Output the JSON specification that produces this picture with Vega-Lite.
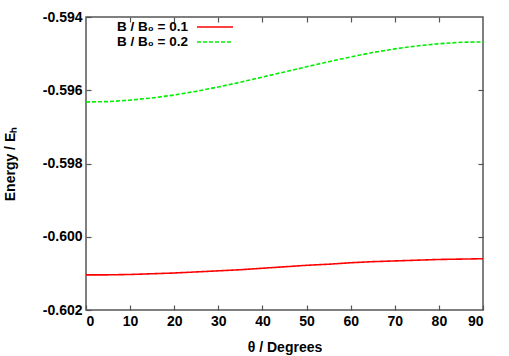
{
  "$schema": "https://vega.github.io/schema/vega-lite/v6.json",
  "width": 397,
  "height": 293,
  "autosize": {"type": "none"},
  "padding": {"left": 86, "top": 17, "right": 26, "bottom": 46},
  "background": "white",
  "config": {
    "view": {"stroke": "#555555", "strokeWidth": 1.5},
    "font": "Liberation Sans",
    "locale": {"number": {"decimal": ".", "thousands": ",", "grouping": [3], "currency": ["$", ""], "minus": "-"}},
    "axis": {"grid": false, "domain": false, "tickColor": "#555555", "tickWidth": 1.2, "tickSize": 5, "offset": -5, "labelFont": "Liberation Sans", "labelFontWeight": "bold", "labelFontSize": 14, "labelColor": "black", "titleFont": "Liberation Sans", "titleFontWeight": "bold", "titleFontSize": 14, "titleColor": "black"},
    "legend": {"orient": "none", "title": null, "symbolType": "stroke", "symbolSize": 1300, "symbolStrokeWidth": 1.6, "labelAlign": "right", "labelOffset": -46, "labelFontSize": 13.5, "labelFontWeight": "bold", "labelColor": "black", "labelFont": "Liberation Sans"}
  },
  "data": {"values": [
    {"theta": 0, "energy": -0.60104, "series": "B / B₀ = 0.1"},
    {"theta": 5, "energy": -0.60104, "series": "B / B₀ = 0.1"},
    {"theta": 10, "energy": -0.60103, "series": "B / B₀ = 0.1"},
    {"theta": 15, "energy": -0.60101, "series": "B / B₀ = 0.1"},
    {"theta": 20, "energy": -0.60099, "series": "B / B₀ = 0.1"},
    {"theta": 25, "energy": -0.60096, "series": "B / B₀ = 0.1"},
    {"theta": 30, "energy": -0.60093, "series": "B / B₀ = 0.1"},
    {"theta": 35, "energy": -0.60090, "series": "B / B₀ = 0.1"},
    {"theta": 40, "energy": -0.60086, "series": "B / B₀ = 0.1"},
    {"theta": 45, "energy": -0.60082, "series": "B / B₀ = 0.1"},
    {"theta": 50, "energy": -0.60078, "series": "B / B₀ = 0.1"},
    {"theta": 55, "energy": -0.60075, "series": "B / B₀ = 0.1"},
    {"theta": 60, "energy": -0.60071, "series": "B / B₀ = 0.1"},
    {"theta": 65, "energy": -0.60068, "series": "B / B₀ = 0.1"},
    {"theta": 70, "energy": -0.60066, "series": "B / B₀ = 0.1"},
    {"theta": 75, "energy": -0.60064, "series": "B / B₀ = 0.1"},
    {"theta": 80, "energy": -0.60062, "series": "B / B₀ = 0.1"},
    {"theta": 85, "energy": -0.60061, "series": "B / B₀ = 0.1"},
    {"theta": 90, "energy": -0.60060, "series": "B / B₀ = 0.1"},
    {"theta": 0, "energy": -0.59632, "series": "B / B₀ = 0.2"},
    {"theta": 5, "energy": -0.59631, "series": "B / B₀ = 0.2"},
    {"theta": 10, "energy": -0.59627, "series": "B / B₀ = 0.2"},
    {"theta": 15, "energy": -0.59621, "series": "B / B₀ = 0.2"},
    {"theta": 20, "energy": -0.59613, "series": "B / B₀ = 0.2"},
    {"theta": 25, "energy": -0.59603, "series": "B / B₀ = 0.2"},
    {"theta": 30, "energy": -0.59591, "series": "B / B₀ = 0.2"},
    {"theta": 35, "energy": -0.59578, "series": "B / B₀ = 0.2"},
    {"theta": 40, "energy": -0.59564, "series": "B / B₀ = 0.2"},
    {"theta": 45, "energy": -0.59550, "series": "B / B₀ = 0.2"},
    {"theta": 50, "energy": -0.59536, "series": "B / B₀ = 0.2"},
    {"theta": 55, "energy": -0.59522, "series": "B / B₀ = 0.2"},
    {"theta": 60, "energy": -0.59509, "series": "B / B₀ = 0.2"},
    {"theta": 65, "energy": -0.59497, "series": "B / B₀ = 0.2"},
    {"theta": 70, "energy": -0.59487, "series": "B / B₀ = 0.2"},
    {"theta": 75, "energy": -0.59479, "series": "B / B₀ = 0.2"},
    {"theta": 80, "energy": -0.59473, "series": "B / B₀ = 0.2"},
    {"theta": 85, "energy": -0.59469, "series": "B / B₀ = 0.2"},
    {"theta": 90, "energy": -0.59468, "series": "B / B₀ = 0.2"}
  ]},
  "layer": [
    {
      "mark": {"type": "line", "strokeWidth": 1.6, "clip": true},
      "encoding": {
        "x": {"field": "theta", "type": "quantitative", "scale": {"domain": [0, 90], "nice": false}, "axis": {"values": [0, 10, 20, 30, 40, 50, 60, 70, 80, 90], "labelPadding": 4, "title": "θ /  Degrees", "titlePadding": 12}},
        "y": {"field": "energy", "type": "quantitative", "scale": {"domain": [-0.602, -0.594], "nice": false, "zero": false}, "axis": {"values": [-0.602, -0.6, -0.598, -0.596, -0.594], "format": ".3f", "labelPadding": 4, "title": "Energy / Eₕ", "titlePadding": 25}},
        "color": {"field": "series", "type": "nominal", "scale": {"domain": ["B / B₀ = 0.1", "B / B₀ = 0.2"], "range": ["#ff0000", "#00ee00"]}, "legend": {"values": ["B / B₀ = 0.1"], "legendX": 110, "legendY": -9}},
        "strokeDash": {"field": "series", "type": "nominal", "scale": {"domain": ["B / B₀ = 0.2", "B / B₀ = 0.1"], "range": [[4, 2], [1, 0]]}, "legend": {"values": ["B / B₀ = 0.2"], "legendX": 110, "legendY": 6, "symbolStrokeColor": "#00ee00"}}
      }
    },
    {
      "mark": {"type": "rule", "opacity": 0},
      "encoding": {
        "x": {"field": "theta", "type": "quantitative", "axis": {"orient": "top", "values": [10, 20, 30, 40, 50, 60, 70, 80], "labels": false, "title": null}},
        "y": {"field": "energy", "type": "quantitative", "axis": {"orient": "right", "values": [-0.6, -0.598, -0.596], "labels": false, "title": null}}
      }
    }
  ],
  "resolve": {"axis": {"x": "independent", "y": "independent"}}
}
